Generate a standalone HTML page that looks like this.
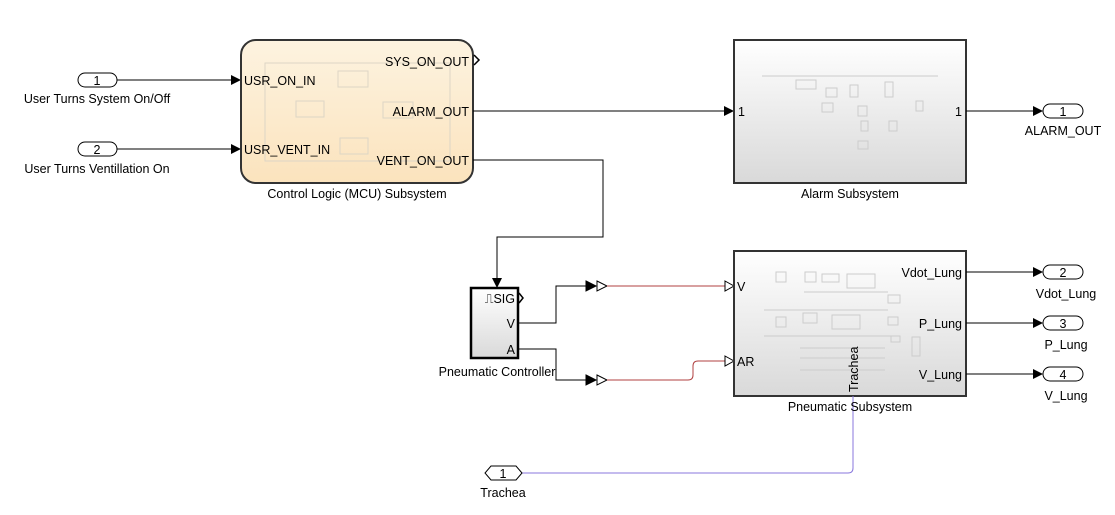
<!DOCTYPE html>
<html><head><meta charset="utf-8"><style>
html,body{margin:0;padding:0;background:#fff;}
svg{display:block;font-family:"Liberation Sans",Arial,sans-serif;}
</style></head><body>
<svg width="1115" height="515" viewBox="0 0 1115 515" xmlns="http://www.w3.org/2000/svg">
<defs>
<linearGradient id="gc" x1="0" y1="0" x2="0" y2="1"><stop offset="0" stop-color="#fdf3e0"/><stop offset="1" stop-color="#fbe3bd"/></linearGradient>
<linearGradient id="gg" x1="0" y1="0" x2="0" y2="1"><stop offset="0" stop-color="#ffffff"/><stop offset="1" stop-color="#d9d9d9"/></linearGradient>
<marker id="a" markerWidth="10" markerHeight="10" refX="9" refY="5" orient="auto" markerUnits="userSpaceOnUse"><path d="M0,0 L10,5 L0,10z" fill="#000"/></marker>
</defs>
<g stroke="#000" fill="none" stroke-width="1">
<rect x="78" y="73" width="39" height="14" rx="7" fill="#fff"/>
<rect x="78" y="142" width="39" height="14" rx="7" fill="#fff"/>
<path d="M117,80 H240" marker-end="url(#a)"/>
<path d="M117,149 H240" marker-end="url(#a)"/>
<rect x="241" y="40" width="232" height="143" rx="15" fill="url(#gc)" stroke="#333" stroke-width="2"/>
<g stroke="#ddd5c5"><rect x="265" y="63" width="185" height="98"/><rect x="338" y="71" width="30" height="16"/><rect x="296" y="101" width="28" height="16"/><rect x="383" y="102" width="30" height="16"/><rect x="340" y="138" width="28" height="16"/></g>
<path d="M474,55 L479,60 L474,65" stroke-width="1.5"/>
<path d="M473,111 H733" marker-end="url(#a)"/>
<rect x="734" y="40" width="232" height="143" fill="url(#gg)" stroke="#333" stroke-width="2"/>
<g stroke="#ccc"><path d="M762,76 H938"/><rect x="796" y="80" width="20" height="9"/><rect x="826" y="88" width="11" height="9"/><rect x="822" y="103" width="11" height="9"/><rect x="850" y="85" width="8" height="12"/><rect x="858" y="106" width="9" height="10"/><rect x="885" y="82" width="8" height="15"/><rect x="916" y="101" width="7" height="10"/><rect x="861" y="121" width="7" height="10"/><rect x="889" y="121" width="8" height="10"/><rect x="858" y="141" width="10" height="8"/></g>
<path d="M966,111 H1042" marker-end="url(#a)"/>
<rect x="1043" y="104" width="40" height="14" rx="7" fill="#fff"/>
<path d="M473,160 H603 V237 H497 V287" marker-end="url(#a)"/>
<rect x="471" y="288" width="47" height="70" fill="url(#gg)" stroke="#000" stroke-width="2.5"/>
<path d="M519,293 L523,298 L519,303" stroke-width="1.5"/>
<path d="M518,323 H556 V286 H596" />
<path d="M518,349 H556 V380 H596" />
<path d="M586,281 L596,286 L586,291z" fill="#000"/>
<path d="M597,281 L607,286 L597,291z" fill="#fff"/>
<path d="M586,375 L596,380 L586,385z" fill="#000"/>
<path d="M597,375 L607,380 L597,385z" fill="#fff"/>
<path d="M607,286 H725" stroke="#b04040"/>
<path d="M607,380 H688 Q693,380 693,375 V366 Q693,361 698,361 H725" stroke="#b04040"/>
<path d="M725,281 L734,286 L725,291z" fill="#fff"/>
<path d="M725,356 L734,361 L725,366z" fill="#fff"/>
<rect x="734" y="251" width="232" height="145" fill="url(#gg)" stroke="#333" stroke-width="2"/>
<g stroke="#ccc"><rect x="776" y="272" width="10" height="10"/><rect x="805" y="272" width="11" height="10"/><rect x="822" y="274" width="17" height="8"/><rect x="847" y="274" width="28" height="14"/><rect x="776" y="317" width="10" height="10"/><rect x="803" y="313" width="14" height="10"/><rect x="832" y="315" width="28" height="14"/><rect x="888" y="295" width="12" height="8"/><rect x="888" y="317" width="10" height="8"/><rect x="891" y="336" width="9" height="6"/><rect x="912" y="337" width="8" height="19"/><path d="M764,310 H888 M764,336 H891 M804,292 H888"/><path d="M800,348 H885 M800,358 H885 M800,370 H885"/></g>
<path d="M966,272 H1042" marker-end="url(#a)"/>
<path d="M966,323 H1042" marker-end="url(#a)"/>
<path d="M966,374 H1042" marker-end="url(#a)"/>
<rect x="1043" y="265" width="40" height="14" rx="7" fill="#fff"/>
<rect x="1043" y="316" width="40" height="14" rx="7" fill="#fff"/>
<rect x="1043" y="367" width="40" height="14" rx="7" fill="#fff"/>
<path d="M522,473 H848 Q853,473 853,468 V396" stroke="#8877dd"/>
<path d="M491,466 H516 L522,473 L516,480 H491 L485,473z" fill="#fff"/>
</g>
<g font-size="12.5" fill="#000">
<text x="97" y="85" text-anchor="middle">1</text>
<text x="97" y="154" text-anchor="middle">2</text>
<text x="97" y="103" text-anchor="middle">User Turns System On/Off</text>
<text x="97" y="173" text-anchor="middle">User Turns Ventillation On</text>
<text x="244" y="85">USR_ON_IN</text>
<text x="244" y="154">USR_VENT_IN</text>
<text x="469" y="66" text-anchor="end">SYS_ON_OUT</text>
<text x="469" y="116" text-anchor="end">ALARM_OUT</text>
<text x="469" y="165" text-anchor="end">VENT_ON_OUT</text>
<text x="357" y="198" text-anchor="middle">Control Logic (MCU) Subsystem</text>
<text x="738" y="116">1</text>
<text x="962" y="116" text-anchor="end">1</text>
<text x="850" y="198" text-anchor="middle">Alarm Subsystem</text>
<text x="1063" y="116" text-anchor="middle">1</text>
<text x="1063" y="135" text-anchor="middle">ALARM_OUT</text>
<text x="515" y="303" text-anchor="end">⎍SIG</text>
<text x="515" y="328" text-anchor="end">V</text>
<text x="515" y="354" text-anchor="end">A</text>
<text x="497" y="376" text-anchor="middle">Pneumatic Controller</text>
<text x="737" y="291">V</text>
<text x="737" y="366">AR</text>
<text x="962" y="277" text-anchor="end">Vdot_Lung</text>
<text x="962" y="328" text-anchor="end">P_Lung</text>
<text x="962" y="379" text-anchor="end">V_Lung</text>
<text x="850" y="411" text-anchor="middle">Pneumatic Subsystem</text>
<text transform="translate(858,392) rotate(-90)">Trachea</text>
<text x="1063" y="277" text-anchor="middle">2</text>
<text x="1063" y="328" text-anchor="middle">3</text>
<text x="1063" y="379" text-anchor="middle">4</text>
<text x="1066" y="298" text-anchor="middle">Vdot_Lung</text>
<text x="1066" y="349" text-anchor="middle">P_Lung</text>
<text x="1066" y="400" text-anchor="middle">V_Lung</text>
<text x="503" y="478" text-anchor="middle">1</text>
<text x="503" y="497" text-anchor="middle">Trachea</text>
</g>
</svg>
</body></html>
